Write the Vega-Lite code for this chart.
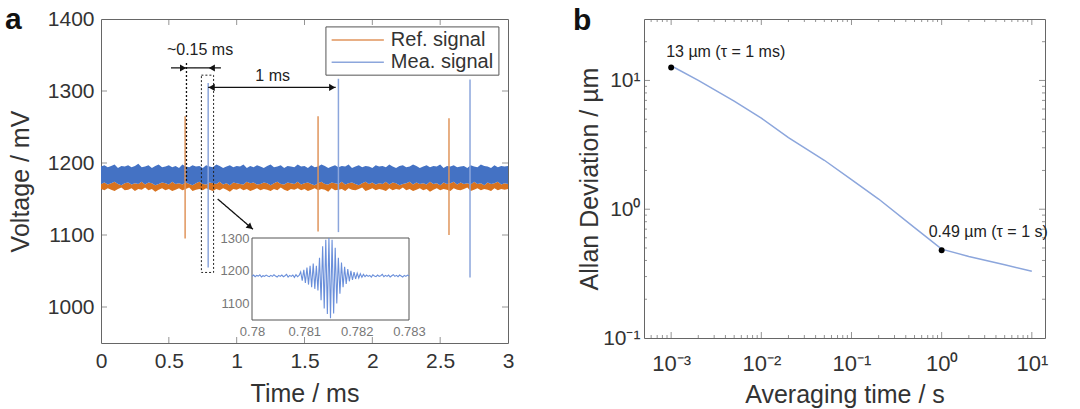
{
 "$schema": "https://vega.github.io/schema/vega-lite/v6.json",
 "padding": {"left": 4, "top": 4, "right": 0, "bottom": 0},
 "config": {
  "font": "Liberation Sans",
  "view": {"stroke": "#666", "strokeWidth": 1},
  "axis": {"grid": false, "domain": false, "ticks": false, "labelFlush": false, "labelFontSize": 21, "titleFontSize": 25, "labelColor": "#333", "titleColor": "#333", "titleFontWeight": "normal", "labelPadding": 7, "titlePadding": 10}
 },
 "spacing": 57,
 "hconcat": [
  {
   "width": 407, "height": 324,
   "layer": [
    {
     "layer": [
      {
       "data": {"values": [
        {"t":0,"bh":1195,"bl":1171,"ol":1164},{"t":0.025,"bh":1197,"bl":1173,"ol":1162},{"t":0.05,"bh":1194,"bl":1170,"ol":1165},{"t":0.075,"bh":1196,"bl":1172,"ol":1163},{"t":0.1,"bh":1198,"bl":1174,"ol":1161},{"t":0.125,"bh":1193,"bl":1171,"ol":1164},{"t":0.15,"bh":1196,"bl":1169,"ol":1166},{"t":0.175,"bh":1195,"bl":1172,"ol":1162},{"t":0.2,"bh":1197,"bl":1173,"ol":1163},{"t":0.225,"bh":1194,"bl":1170,"ol":1165},
        {"t":0.25,"bh":1196,"bl":1172,"ol":1161},{"t":0.275,"bh":1199,"bl":1171,"ol":1164},{"t":0.3,"bh":1194,"bl":1174,"ol":1163},{"t":0.325,"bh":1195,"bl":1170,"ol":1166},{"t":0.35,"bh":1197,"bl":1173,"ol":1162},{"t":0.375,"bh":1193,"bl":1172,"ol":1164},{"t":0.4,"bh":1196,"bl":1169,"ol":1160},{"t":0.425,"bh":1198,"bl":1171,"ol":1163},{"t":0.45,"bh":1194,"bl":1173,"ol":1165},{"t":0.475,"bh":1195,"bl":1172,"ol":1162},
        {"t":0.5,"bh":1197,"bl":1170,"ol":1164},{"t":0.525,"bh":1194,"bl":1174,"ol":1161},{"t":0.55,"bh":1196,"bl":1171,"ol":1163},{"t":0.575,"bh":1193,"bl":1172,"ol":1165},{"t":0.6,"bh":1198,"bl":1170,"ol":1162},{"t":0.625,"bh":1195,"bl":1173,"ol":1164},{"t":0.65,"bh":1194,"bl":1171,"ol":1166},{"t":0.675,"bh":1197,"bl":1169,"ol":1161},{"t":0.7,"bh":1195,"bl":1172,"ol":1163},{"t":0.725,"bh":1196,"bl":1174,"ol":1164},
        {"t":0.75,"bh":1193,"bl":1171,"ol":1162},{"t":0.775,"bh":1197,"bl":1170,"ol":1165},{"t":0.8,"bh":1195,"bl":1173,"ol":1163},{"t":0.825,"bh":1194,"bl":1172,"ol":1161},{"t":0.85,"bh":1198,"bl":1171,"ol":1164},{"t":0.875,"bh":1196,"bl":1174,"ol":1162},{"t":0.9,"bh":1193,"bl":1170,"ol":1165},{"t":0.925,"bh":1195,"bl":1172,"ol":1163},{"t":0.95,"bh":1197,"bl":1169,"ol":1160},{"t":0.975,"bh":1194,"bl":1173,"ol":1164},
        {"t":1.0,"bh":1196,"bl":1172,"ol":1163},{"t":1.025,"bh":1195,"bl":1171,"ol":1165},{"t":1.05,"bh":1198,"bl":1170,"ol":1162},{"t":1.075,"bh":1193,"bl":1174,"ol":1164},{"t":1.1,"bh":1196,"bl":1172,"ol":1161},{"t":1.125,"bh":1194,"bl":1173,"ol":1163},{"t":1.15,"bh":1197,"bl":1170,"ol":1165},{"t":1.175,"bh":1195,"bl":1171,"ol":1162},{"t":1.2,"bh":1193,"bl":1173,"ol":1164},{"t":1.225,"bh":1196,"bl":1172,"ol":1163},
        {"t":1.25,"bh":1198,"bl":1169,"ol":1161},{"t":1.275,"bh":1194,"bl":1172,"ol":1164},{"t":1.3,"bh":1195,"bl":1174,"ol":1162},{"t":1.325,"bh":1197,"bl":1171,"ol":1166},{"t":1.35,"bh":1193,"bl":1170,"ol":1163},{"t":1.375,"bh":1196,"bl":1173,"ol":1161},{"t":1.4,"bh":1195,"bl":1172,"ol":1164},{"t":1.425,"bh":1194,"bl":1171,"ol":1163},{"t":1.45,"bh":1198,"bl":1174,"ol":1165},{"t":1.475,"bh":1195,"bl":1170,"ol":1162},
        {"t":1.5,"bh":1196,"bl":1172,"ol":1164},{"t":1.525,"bh":1193,"bl":1173,"ol":1161},{"t":1.55,"bh":1197,"bl":1171,"ol":1163},{"t":1.575,"bh":1194,"bl":1169,"ol":1165},{"t":1.6,"bh":1195,"bl":1172,"ol":1162},{"t":1.625,"bh":1198,"bl":1174,"ol":1164},{"t":1.65,"bh":1196,"bl":1171,"ol":1163},{"t":1.675,"bh":1193,"bl":1170,"ol":1160},{"t":1.7,"bh":1195,"bl":1173,"ol":1165},{"t":1.725,"bh":1197,"bl":1172,"ol":1162},
        {"t":1.75,"bh":1194,"bl":1171,"ol":1163},{"t":1.775,"bh":1196,"bl":1174,"ol":1164},{"t":1.8,"bh":1195,"bl":1170,"ol":1161},{"t":1.825,"bh":1198,"bl":1172,"ol":1165},{"t":1.85,"bh":1193,"bl":1173,"ol":1163},{"t":1.875,"bh":1195,"bl":1171,"ol":1162},{"t":1.9,"bh":1197,"bl":1169,"ol":1164},{"t":1.925,"bh":1194,"bl":1172,"ol":1166},{"t":1.95,"bh":1196,"bl":1174,"ol":1161},{"t":1.975,"bh":1195,"bl":1171,"ol":1163},
        {"t":2.0,"bh":1193,"bl":1173,"ol":1165},{"t":2.025,"bh":1197,"bl":1170,"ol":1162},{"t":2.05,"bh":1195,"bl":1172,"ol":1164},{"t":2.075,"bh":1196,"bl":1171,"ol":1163},{"t":2.1,"bh":1194,"bl":1174,"ol":1161},{"t":2.125,"bh":1198,"bl":1170,"ol":1165},{"t":2.15,"bh":1195,"bl":1173,"ol":1162},{"t":2.175,"bh":1193,"bl":1172,"ol":1164},{"t":2.2,"bh":1196,"bl":1169,"ol":1163},{"t":2.225,"bh":1197,"bl":1171,"ol":1166},
        {"t":2.25,"bh":1194,"bl":1172,"ol":1162},{"t":2.275,"bh":1195,"bl":1174,"ol":1164},{"t":2.3,"bh":1198,"bl":1170,"ol":1161},{"t":2.325,"bh":1196,"bl":1173,"ol":1163},{"t":2.35,"bh":1193,"bl":1171,"ol":1165},{"t":2.375,"bh":1195,"bl":1172,"ol":1162},{"t":2.4,"bh":1197,"bl":1170,"ol":1164},{"t":2.425,"bh":1194,"bl":1174,"ol":1160},{"t":2.45,"bh":1196,"bl":1171,"ol":1163},{"t":2.475,"bh":1195,"bl":1172,"ol":1165},
        {"t":2.5,"bh":1198,"bl":1169,"ol":1162},{"t":2.525,"bh":1193,"bl":1173,"ol":1164},{"t":2.55,"bh":1196,"bl":1171,"ol":1163},{"t":2.575,"bh":1195,"bl":1172,"ol":1161},{"t":2.6,"bh":1197,"bl":1174,"ol":1165},{"t":2.625,"bh":1194,"bl":1170,"ol":1163},{"t":2.65,"bh":1195,"bl":1173,"ol":1162},{"t":2.675,"bh":1196,"bl":1171,"ol":1164},{"t":2.7,"bh":1193,"bl":1172,"ol":1166},{"t":2.725,"bh":1197,"bl":1170,"ol":1161},
        {"t":2.75,"bh":1195,"bl":1174,"ol":1163},{"t":2.775,"bh":1194,"bl":1171,"ol":1165},{"t":2.8,"bh":1198,"bl":1172,"ol":1162},{"t":2.825,"bh":1196,"bl":1169,"ol":1164},{"t":2.85,"bh":1195,"bl":1173,"ol":1163},{"t":2.875,"bh":1193,"bl":1171,"ol":1161},{"t":2.9,"bh":1197,"bl":1172,"ol":1165},{"t":2.925,"bh":1194,"bl":1174,"ol":1162},{"t":2.95,"bh":1196,"bl":1170,"ol":1164},{"t":2.975,"bh":1195,"bl":1172,"ol":1163},
        {"t":3.0,"bh":1196,"bl":1171,"ol":1164}
       ]},
       "layer": [
        {
         "mark": {"type": "area", "color": "#D9731F", "opacity": 1},
         "encoding": {
          "x": {"field": "t", "type": "quantitative", "scale": {"domain": [0, 3], "nice": false, "zero": false},
                "axis": {"values": [0, 0.5, 1, 1.5, 2, 2.5, 3], "format": "~g", "title": "Time / ms"}},
          "y": {"field": "ol", "type": "quantitative", "scale": {"domain": [950, 1400], "nice": false, "zero": false},
                "axis": {"values": [1000, 1100, 1200, 1300, 1400], "format": "d", "title": "Voltage / mV", "titlePadding": 14}},
          "y2": {"field": "bl"}
         }
        },
        {
         "mark": {"type": "area", "color": "#4472C4", "opacity": 1},
         "encoding": {
          "x": {"field": "t", "type": "quantitative"},
          "y": {"field": "bl", "type": "quantitative"},
          "y2": {"field": "bh"}
         }
        }
       ]
      },
      {
       "data": {"values": [
        {"series": "Ref. signal", "t": 0.62, "lo": 1095, "hi": 1265},
        {"series": "Ref. signal", "t": 1.6, "lo": 1105, "hi": 1265},
        {"series": "Ref. signal", "t": 2.565, "lo": 1100, "hi": 1262},
        {"series": "Mea. signal", "t": 0.79, "lo": 1055, "hi": 1311},
        {"series": "Mea. signal", "t": 1.75, "lo": 1104, "hi": 1317},
        {"series": "Mea. signal", "t": 2.72, "lo": 1041, "hi": 1316}
       ]},
       "mark": {"type": "rule", "strokeWidth": 1.5},
       "encoding": {
        "x": {"field": "t", "type": "quantitative"},
        "y": {"field": "lo", "type": "quantitative"},
        "y2": {"field": "hi"},
        "color": {"field": "series", "type": "nominal", "scale": {"domain": ["Ref. signal", "Mea. signal"], "range": ["#E0955C", "#8CA6DC"]}, "legend": null}
       }
      },
      {
       "data": {"values": [{"t": 0.5}, {"t": 1}, {"t": 1.5}, {"t": 2}, {"t": 2.5}]},
       "layer": [
        {"mark": {"type": "tick", "orient": "vertical", "size": 12, "thickness": 1, "color": "#666", "clip": true},
         "encoding": {"x": {"field": "t", "type": "quantitative"}, "y": {"datum": 950, "type": "quantitative"}}},
        {"mark": {"type": "tick", "orient": "vertical", "size": 12, "thickness": 1, "color": "#666", "clip": true},
         "encoding": {"x": {"field": "t", "type": "quantitative"}, "y": {"datum": 1400, "type": "quantitative"}}}
       ]
      },
      {
       "data": {"values": [{"v": 1000}, {"v": 1100}, {"v": 1200}, {"v": 1300}]},
       "layer": [
        {"mark": {"type": "tick", "orient": "horizontal", "size": 12, "thickness": 1, "color": "#666", "clip": true},
         "encoding": {"y": {"field": "v", "type": "quantitative"}, "x": {"datum": 0, "type": "quantitative"}}},
        {"mark": {"type": "tick", "orient": "horizontal", "size": 12, "thickness": 1, "color": "#666", "clip": true},
         "encoding": {"y": {"field": "v", "type": "quantitative"}, "x": {"datum": 3, "type": "quantitative"}}}
       ]
      },
      {
       "data": {"values": [{"t": 0.74, "t2": 0.83, "v": 1048, "v2": 1322}]},
       "mark": {"type": "rect", "fill": null, "fillOpacity": 0, "stroke": "#222", "strokeWidth": 1, "strokeDash": [2, 2]},
       "encoding": {
        "x": {"field": "t", "type": "quantitative"}, "x2": {"field": "t2"},
        "y": {"field": "v", "type": "quantitative"}, "y2": {"field": "v2"}
       }
      },
      {
       "data": {"values": [{"t": 0.63, "t2": 0.63, "v": 1175, "v2": 1340, "dash": "dot"}, {"t": 0.516, "t2": 0.884, "v": 1332, "v2": 1332, "dash": "solid"}, {"t": 0.79, "t2": 1.73, "v": 1305, "v2": 1305, "dash": "solid"}, {"t": 0.86, "t2": 1.12, "v": 1150, "v2": 1108, "dash": "solid"}]},
       "mark": {"type": "rule", "color": "#111", "strokeWidth": 1.3},
       "encoding": {
        "x": {"field": "t", "type": "quantitative"}, "x2": {"field": "t2"},
        "y": {"field": "v", "type": "quantitative"}, "y2": {"field": "v2"},
        "strokeDash": {"field": "dash", "type": "nominal", "scale": {"domain": ["dot", "solid"], "range": [[2, 2], [1, 0]]}, "legend": null}
       }
      },
      {
       "data": {"values": [
        {"t": 0.605, "v": 1332, "shape": "triangle-right", "ang": 0},
        {"t": 0.817, "v": 1332, "shape": "triangle-left", "ang": 0},
        {"t": 0.816, "v": 1305, "shape": "triangle-left", "ang": 0},
        {"t": 1.704, "v": 1305, "shape": "triangle-right", "ang": 0},
        {"t": 1.10, "v": 1111, "shape": "triangle-right", "ang": 40}
       ]},
       "mark": {"type": "point", "filled": true, "color": "#111", "size": 50, "opacity": 1},
       "encoding": {
        "x": {"field": "t", "type": "quantitative"},
        "y": {"field": "v", "type": "quantitative"},
        "shape": {"field": "shape", "type": "nominal", "scale": null},
        "angle": {"field": "ang", "type": "quantitative", "scale": null}
       }
      },
      {
       "data": {"values": [
        {"t": 0.73, "v": 1357, "label": "~0.15 ms"},
        {"t": 1.265, "v": 1321, "label": "1 ms"}
       ]},
       "mark": {"type": "text", "color": "#222", "baseline": "middle", "fontSize": 16},
       "encoding": {
        "x": {"field": "t", "type": "quantitative"},
        "y": {"field": "v", "type": "quantitative"},
        "text": {"field": "label"}
       }
      },
      {
       "data": {"values": [{"t": 1.658, "t2": 2.933, "v": 1322, "v2": 1389}]},
       "mark": {"type": "rect", "fill": "white", "stroke": "#555", "strokeWidth": 1},
       "encoding": {
        "x": {"field": "t", "type": "quantitative"}, "x2": {"field": "t2"},
        "y": {"field": "v", "type": "quantitative"}, "y2": {"field": "v2"}
       }
      },
      {
       "data": {"values": [
        {"series": "Ref. signal", "t": 1.70, "t2": 2.085, "v": 1371},
        {"series": "Mea. signal", "t": 1.70, "t2": 2.085, "v": 1340}
       ]},
       "layer": [
        {
         "mark": {"type": "rule", "strokeWidth": 1.5},
         "encoding": {
          "x": {"field": "t", "type": "quantitative"}, "x2": {"field": "t2"},
          "y": {"field": "v", "type": "quantitative"},
          "color": {"field": "series", "type": "nominal", "legend": null}
         }
        },
        {
         "mark": {"type": "text", "color": "#333", "align": "left", "baseline": "middle", "fontSize": 20, "dx": 7},
         "encoding": {
          "x": {"field": "t2", "type": "quantitative"},
          "y": {"field": "v", "type": "quantitative"},
          "text": {"field": "series"}
         }
        }
       ]
      },
      {
       "data": {"values": [{"t": -0.707, "v": 1386, "label": "a"}]},
       "mark": {"type": "text", "color": "#111", "baseline": "alphabetic", "align": "left", "fontSize": 30, "fontWeight": "bold"},
       "encoding": {
        "x": {"field": "t", "type": "quantitative"},
        "y": {"field": "v", "type": "quantitative"},
        "text": {"field": "label"}
       }
      }
     ]
    },
    {
     "layer": [
      {
       "data": {"values": [{"ti": 0.78, "ti2": 0.783, "vi": 1050, "vi2": 1300}]},
       "mark": {"type": "rect", "fill": "white", "stroke": "#555", "strokeWidth": 1},
       "encoding": {
        "x": {"field": "ti", "type": "quantitative", "scale": {"domain": [0.78, 0.783], "range": [151, 308], "nice": false, "zero": false},
              "axis": {"orient": "bottom", "offset": -23, "values": [0.78, 0.781, 0.782, 0.783], "format": ".3~f", "labelFontSize": 13, "labelColor": "#777", "labelPadding": 5, "title": null}},
        "x2": {"field": "ti2"},
        "y": {"field": "vi", "type": "quantitative", "scale": {"domain": [1050, 1300], "range": [301, 219], "nice": false, "zero": false},
              "axis": {"orient": "left", "offset": -151, "values": [1100, 1200, 1300], "format": "d", "labelFontSize": 13, "labelColor": "#777", "labelPadding": 3, "title": null}},
        "y2": {"field": "vi2"}
       }
      },
      {
       "data": {"values": [
        {"ti":0.78,"vi":1183},{"ti":0.78003,"vi":1187},{"ti":0.78006,"vi":1182},{"ti":0.78009,"vi":1186},{"ti":0.78012,"vi":1184},{"ti":0.78015,"vi":1188},{"ti":0.78018,"vi":1181},{"ti":0.78021,"vi":1185},{"ti":0.78024,"vi":1183},{"ti":0.78027,"vi":1187},
        {"ti":0.7803,"vi":1184},{"ti":0.78033,"vi":1182},{"ti":0.78036,"vi":1186},{"ti":0.78039,"vi":1183},{"ti":0.78042,"vi":1188},{"ti":0.78045,"vi":1184},{"ti":0.78048,"vi":1181},{"ti":0.78051,"vi":1186},{"ti":0.78054,"vi":1183},{"ti":0.78057,"vi":1187},
        {"ti":0.7806,"vi":1182},{"ti":0.78063,"vi":1185},{"ti":0.78066,"vi":1189},{"ti":0.78069,"vi":1181},{"ti":0.78072,"vi":1186},{"ti":0.78075,"vi":1183},{"ti":0.78078,"vi":1187},{"ti":0.78081,"vi":1180},{"ti":0.78084,"vi":1188},{"ti":0.78087,"vi":1182},
        {"ti":0.7809,"vi":1186},{"ti":0.78093,"vi":1197},{"ti":0.78096,"vi":1170},{"ti":0.78099,"vi":1203},{"ti":0.78102,"vi":1163},{"ti":0.78105,"vi":1210},{"ti":0.78108,"vi":1158},{"ti":0.78111,"vi":1215},{"ti":0.78114,"vi":1150},{"ti":0.78117,"vi":1222},
        {"ti":0.7812,"vi":1145},{"ti":0.78123,"vi":1215},{"ti":0.78126,"vi":1140},{"ti":0.78129,"vi":1240},{"ti":0.78132,"vi":1110},{"ti":0.78135,"vi":1275},{"ti":0.78138,"vi":1085},{"ti":0.78141,"vi":1295},{"ti":0.78144,"vi":1068},{"ti":0.78147,"vi":1300},
        {"ti":0.7815,"vi":1055},{"ti":0.78153,"vi":1295},{"ti":0.78156,"vi":1070},{"ti":0.78159,"vi":1270},{"ti":0.78162,"vi":1100},{"ti":0.78165,"vi":1240},{"ti":0.78168,"vi":1130},{"ti":0.78171,"vi":1225},{"ti":0.78174,"vi":1150},{"ti":0.78177,"vi":1212},
        {"ti":0.7818,"vi":1160},{"ti":0.78183,"vi":1205},{"ti":0.78186,"vi":1168},{"ti":0.78189,"vi":1200},{"ti":0.78192,"vi":1172},{"ti":0.78195,"vi":1196},{"ti":0.78198,"vi":1175},{"ti":0.78201,"vi":1193},{"ti":0.78204,"vi":1178},{"ti":0.78207,"vi":1191},
        {"ti":0.7821,"vi":1180},{"ti":0.78213,"vi":1189},{"ti":0.78216,"vi":1182},{"ti":0.78219,"vi":1187},{"ti":0.78222,"vi":1183},{"ti":0.78225,"vi":1186},{"ti":0.78228,"vi":1181},{"ti":0.78231,"vi":1188},{"ti":0.78234,"vi":1184},{"ti":0.78237,"vi":1182},
        {"ti":0.7824,"vi":1187},{"ti":0.78243,"vi":1183},{"ti":0.78246,"vi":1185},{"ti":0.78249,"vi":1189},{"ti":0.78252,"vi":1182},{"ti":0.78255,"vi":1186},{"ti":0.78258,"vi":1183},{"ti":0.78261,"vi":1187},{"ti":0.78264,"vi":1181},{"ti":0.78267,"vi":1185},
        {"ti":0.7827,"vi":1188},{"ti":0.78273,"vi":1183},{"ti":0.78276,"vi":1186},{"ti":0.78279,"vi":1182},{"ti":0.78282,"vi":1187},{"ti":0.78285,"vi":1184},{"ti":0.78288,"vi":1181},{"ti":0.78291,"vi":1186},{"ti":0.78294,"vi":1183},{"ti":0.78297,"vi":1187},
        {"ti":0.783,"vi":1184}
       ]},
       "mark": {"type": "line", "color": "#6A8FDA", "strokeWidth": 1.1},
       "encoding": {
        "x": {"field": "ti", "type": "quantitative"},
        "y": {"field": "vi", "type": "quantitative"}
       }
      }
     ]
    }
   ],
   "resolve": {"scale": {"x": "independent", "y": "independent"}}
  },
  {
   "width": 401, "height": 319,
   "layer": [
    {
     "data": {"values": [
      {"tau": 0.001, "dev": 13}, {"tau": 0.002, "dev": 10}, {"tau": 0.005, "dev": 6.9}, {"tau": 0.01, "dev": 5.1},
      {"tau": 0.02, "dev": 3.6}, {"tau": 0.05, "dev": 2.4}, {"tau": 0.1, "dev": 1.7}, {"tau": 0.2, "dev": 1.2},
      {"tau": 0.5, "dev": 0.72}, {"tau": 1, "dev": 0.49}, {"tau": 2, "dev": 0.43}, {"tau": 5, "dev": 0.37}, {"tau": 10, "dev": 0.33}
     ]},
     "mark": {"type": "line", "color": "#8CA6DC", "strokeWidth": 1.5},
     "encoding": {
      "x": {"field": "tau", "type": "quantitative", "scale": {"type": "log", "domain": [0.0005, 14], "nice": false},
            "axis": {"values": [0.001, 0.01, 0.1, 1, 10], "labelExpr": "'10' + ['⁻³','⁻²','⁻¹','⁰','¹'][round(log(datum.value)/LN10)+3]", "title": "Averaging time / s", "labelFontSize": 22, "labelPadding": 15, "titlePadding": 8}},
      "y": {"field": "dev", "type": "quantitative", "scale": {"type": "log", "domain": [0.1, 30], "nice": false},
            "axis": {"values": [0.1, 1, 10], "labelExpr": "'10' + ['⁻¹','⁰','¹'][round(log(datum.value)/LN10)+1]", "title": "Allan Deviation / µm", "labelFontSize": 21, "labelPadding": 4, "titlePadding": 0}}
     }
    },
    {
     "data": {"values": [
      {"tau": 0.0006, "k": "minor"}, {"tau": 0.0007, "k": "minor"}, {"tau": 0.0008, "k": "minor"}, {"tau": 0.0009, "k": "minor"},
      {"tau": 0.001, "k": "major"}, {"tau": 0.002, "k": "minor"}, {"tau": 0.003, "k": "minor"}, {"tau": 0.004, "k": "minor"}, {"tau": 0.005, "k": "minor"}, {"tau": 0.006, "k": "minor"}, {"tau": 0.007, "k": "minor"}, {"tau": 0.008, "k": "minor"}, {"tau": 0.009, "k": "minor"},
      {"tau": 0.01, "k": "major"}, {"tau": 0.02, "k": "minor"}, {"tau": 0.03, "k": "minor"}, {"tau": 0.04, "k": "minor"}, {"tau": 0.05, "k": "minor"}, {"tau": 0.06, "k": "minor"}, {"tau": 0.07, "k": "minor"}, {"tau": 0.08, "k": "minor"}, {"tau": 0.09, "k": "minor"},
      {"tau": 0.1, "k": "major"}, {"tau": 0.2, "k": "minor"}, {"tau": 0.3, "k": "minor"}, {"tau": 0.4, "k": "minor"}, {"tau": 0.5, "k": "minor"}, {"tau": 0.6, "k": "minor"}, {"tau": 0.7, "k": "minor"}, {"tau": 0.8, "k": "minor"}, {"tau": 0.9, "k": "minor"},
      {"tau": 1, "k": "major"}, {"tau": 2, "k": "minor"}, {"tau": 3, "k": "minor"}, {"tau": 4, "k": "minor"}, {"tau": 5, "k": "minor"}, {"tau": 6, "k": "minor"}, {"tau": 7, "k": "minor"}, {"tau": 8, "k": "minor"}, {"tau": 9, "k": "minor"},
      {"tau": 10, "k": "major"}
     ]},
     "layer": [
      {"mark": {"type": "tick", "orient": "vertical", "thickness": 1, "color": "#666", "clip": true},
       "encoding": {"x": {"field": "tau", "type": "quantitative"}, "y": {"datum": 0.1, "type": "quantitative"},
                    "size": {"field": "k", "type": "nominal", "scale": {"domain": ["major", "minor"], "range": [12, 6]}, "legend": null}}},
      {"mark": {"type": "tick", "orient": "vertical", "thickness": 1, "color": "#666", "clip": true},
       "encoding": {"x": {"field": "tau", "type": "quantitative"}, "y": {"datum": 30, "type": "quantitative"},
                    "size": {"field": "k", "type": "nominal", "legend": null}}}
     ]
    },
    {
     "data": {"values": [
      {"dev": 0.2, "k": "minor"}, {"dev": 0.3, "k": "minor"}, {"dev": 0.4, "k": "minor"}, {"dev": 0.5, "k": "minor"}, {"dev": 0.6, "k": "minor"}, {"dev": 0.7, "k": "minor"}, {"dev": 0.8, "k": "minor"}, {"dev": 0.9, "k": "minor"},
      {"dev": 1, "k": "major"}, {"dev": 2, "k": "minor"}, {"dev": 3, "k": "minor"}, {"dev": 4, "k": "minor"}, {"dev": 5, "k": "minor"}, {"dev": 6, "k": "minor"}, {"dev": 7, "k": "minor"}, {"dev": 8, "k": "minor"}, {"dev": 9, "k": "minor"},
      {"dev": 10, "k": "major"}, {"dev": 20, "k": "minor"}
     ]},
     "layer": [
      {"mark": {"type": "tick", "orient": "horizontal", "thickness": 1, "color": "#666", "clip": true},
       "encoding": {"y": {"field": "dev", "type": "quantitative"}, "x": {"datum": 0.0005, "type": "quantitative"},
                    "size": {"field": "k", "type": "nominal", "legend": null}}},
      {"mark": {"type": "tick", "orient": "horizontal", "thickness": 1, "color": "#666", "clip": true},
       "encoding": {"y": {"field": "dev", "type": "quantitative"}, "x": {"datum": 14, "type": "quantitative"},
                    "size": {"field": "k", "type": "nominal", "legend": null}}}
     ]
    },
    {
     "data": {"values": [{"tau": 0.001, "dev": 12.6}, {"tau": 1, "dev": 0.48}]},
     "mark": {"type": "point", "filled": true, "color": "#000", "size": 35, "opacity": 1},
     "encoding": {
      "x": {"field": "tau", "type": "quantitative"},
      "y": {"field": "dev", "type": "quantitative"}
     }
    },
    {
     "data": {"values": [{"tau": 0.00088, "dev": 16.5, "label": "13 µm (τ = 1 ms)"}, {"tau": 0.718, "dev": 0.66, "label": "0.49 µm (τ = 1 s)"}]},
     "mark": {"type": "text", "color": "#222", "align": "left", "baseline": "middle", "fontSize": 16},
     "encoding": {
      "x": {"field": "tau", "type": "quantitative"},
      "y": {"field": "dev", "type": "quantitative"},
      "text": {"field": "label"}
     }
    },
    {
     "data": {"values": [{"tau": 0.0000817, "dev": 28.9, "label": "b"}]},
     "mark": {"type": "text", "color": "#111", "align": "left", "baseline": "middle", "fontSize": 30, "fontWeight": "bold"},
     "encoding": {
      "x": {"field": "tau", "type": "quantitative"},
      "y": {"field": "dev", "type": "quantitative"},
      "text": {"field": "label"}
     }
    }
   ]
  }
 ]
}
